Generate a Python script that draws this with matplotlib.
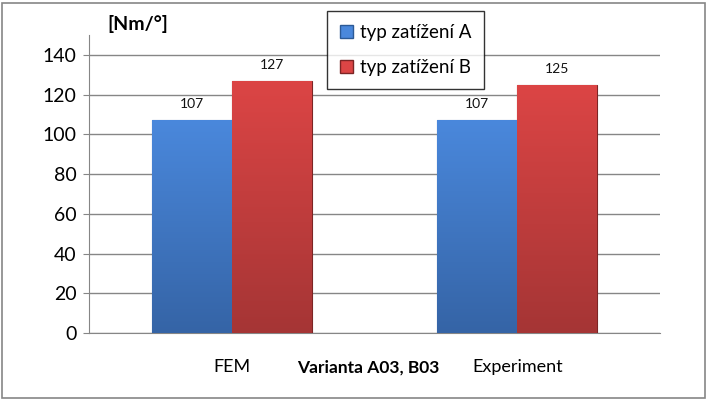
import matplotlib
matplotlib.use("Agg")
import matplotlib.pyplot as plt
import numpy as np
from matplotlib.patches import Rectangle
from matplotlib.colors import LinearSegmentedColormap

categories = ["FEM", "Experiment"]
series_names = ["typ zatížení A", "typ zatížení B"]
values_a = [107, 107]
values_b = [127, 125]
yticks = [0, 20, 40, 60, 80, 100, 120, 140]

plt.rcParams['font.family'] = ['Lato', 'DejaVu Sans']

fig = plt.figure(figsize=(7.08, 4.0), dpi=100)
ax = fig.add_axes([89/708, 1-333/400, (660-89)/708, (333-35)/400])

x = np.arange(len(categories))
w = 0.28
colors_top = ["#4a88dc", "#dc4545"]
colors_bot = ["#3564a6", "#a53535"]
edges = ["#2c5a96", "#7c2525"]
for i, (vals, ct, cb, ec) in enumerate(zip([values_a, values_b], colors_top, colors_bot, edges)):
    offs = (i - 0.5) * w
    bars = ax.bar(x + offs, vals, w, color=ct, edgecolor=ec, linewidth=0.8, zorder=3, label=series_names[i])
    cmap = LinearSegmentedColormap.from_list("g", [cb, ct])
    for b, v in zip(bars, vals):
        grad = np.linspace(0, 1, 256).reshape(-1, 1)
        im = ax.imshow(grad, cmap=cmap, origin="lower", aspect="auto",
                       extent=[b.get_x(), b.get_x() + b.get_width(), 0, v], zorder=3.5)
        im.set_clip_path(b)
        ax.text(b.get_x() + b.get_width() / 2, v + 5, f"{v}", ha="center", va="bottom",
                fontsize=10, color="#111111", zorder=5)

ax.set_xlim(-0.5, 1.5)
ax.set_ylim(0, 150)
ax.set_yticks(yticks)
ax.set_yticklabels([str(t) for t in yticks], fontsize=14)
ax.set_xticks(x)
ax.set_xticklabels(categories, fontsize=13)
ax.tick_params(axis='x', length=0, pad=19)
ax.tick_params(axis='y', length=4, color="#868686", pad=5)
ax.grid(axis='y', color="#868686", linewidth=1, zorder=0)
ax.set_axisbelow(True)
for s in ["top", "right"]:
    ax.spines[s].set_visible(False)
ax.spines["left"].set_color("#868686")
ax.spines["bottom"].set_color("#868686")

fig.text(368/708, 1-368/400, "Varianta A03, B03", ha="center", va="center",
         fontsize=12.5, fontweight="bold")
fig.text(138/708, 1-24/400, "[Nm/°]", ha="center", va="center",
         fontsize=14, fontweight="bold")

handles = [Rectangle((0, 0), 1, 1, facecolor=c, edgecolor=e) for c, e in zip(colors_top, edges)]
leg = fig.legend(handles, series_names, loc="upper left",
                 bbox_to_anchor=(327/708, 1-11/400), fontsize=13.5, frameon=True,
                 fancybox=False, edgecolor="black", handlelength=0.7, handleheight=0.7,
                 handletextpad=0.35, labelspacing=0.95, borderpad=0.7, borderaxespad=0)
leg.get_frame().set_linewidth(1.0)

fig.patches.append(Rectangle((2/708, 2/400), 703/708, 395/400, transform=fig.transFigure,
                             fill=False, edgecolor="#868686", linewidth=1.2))

fig.savefig("out.png", dpi=100)
